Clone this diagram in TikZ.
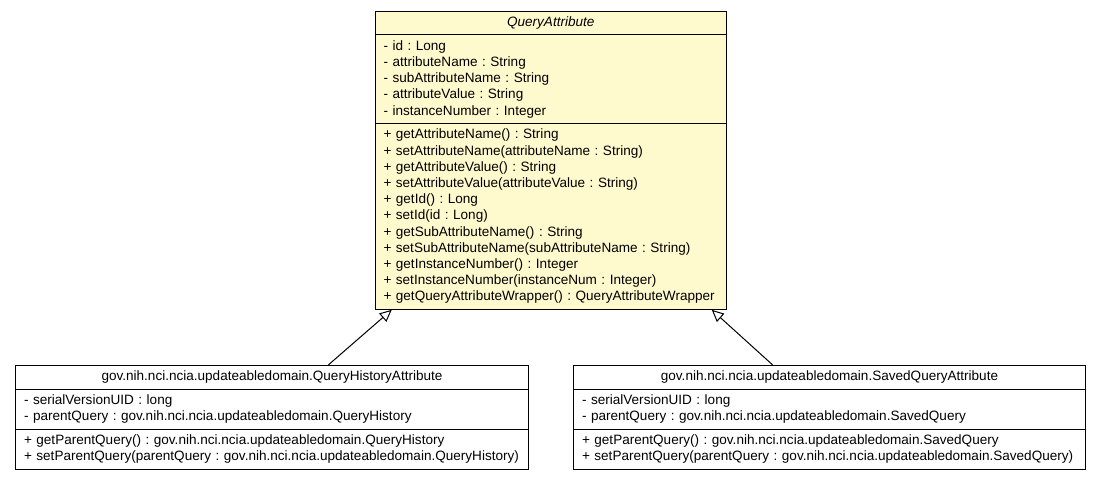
\documentclass[tikz,border=0pt]{standalone}
\usepackage{fontspec}
\setmainfont{Liberation Sans}
\usepackage{tikz}
\usetikzlibrary{shapes.multipart, arrows.meta, positioning}
\frenchspacing
\hyphenpenalty=10000
\definecolor{classfill}{HTML}{FFFACD}
\newcommand{\classtitle}[1]{\makebox[\hsize]{#1}}
\tikzset{
  umlclass/.style={
    rectangle split,
    rectangle split parts=3,
    align=left,
    draw=black,
    line width=1pt,
    inner xsep=8.5pt,
    inner ysep=5.1pt,
    font=\fontsize{13.55}{16.2}\selectfont,
    fill=white
    },
  inherit/.style={
    -{Triangle[open,length=12pt,width=11pt]},
    line width=1pt
    }
}

\begin{document}
\begin{tikzpicture}
\useasboundingbox (0,0) rectangle (1101pt,-480pt);
\node (qa) [umlclass, fill=classfill, text width=334.5pt, anchor=north west] at (374.5pt,-10.5pt) {%
  \classtitle{\textit{QueryAttribute}}
  \nodepart{second}
  - id : Long\\
  - attributeName : String\\
  - subAttributeName : String\\
  - attributeValue : String\\
  - instanceNumber : Integer
  \nodepart{third}
  + getAttributeName() : String\\
  + setAttributeName(attributeName : String)\\
  + getAttributeValue() : String\\
  + setAttributeValue(attributeValue : String)\\
  + getId() : Long\\
  + setId(id : Long)\\
  + getSubAttributeName() : String\\
  + setSubAttributeName(subAttributeName : String)\\
  + getInstanceNumber() : Integer\\
  + setInstanceNumber(instanceNum : Integer)\\
  + getQueryAttributeWrapper() : QueryAttributeWrapper};
\node (hist) [umlclass, text width=496pt, below=55pt of qa.south, xshift=-278.75pt] {%
  \classtitle{gov.nih.nci.ncia.updateabledomain.QueryHistoryAttribute}
  \nodepart{second}
  - serialVersionUID : long\\
  - parentQuery : gov.nih.nci.ncia.updateabledomain.QueryHistory
  \nodepart{third}
  + getParentQuery() : gov.nih.nci.ncia.updateabledomain.QueryHistory\\
  + setParentQuery(parentQuery : gov.nih.nci.ncia.updateabledomain.QueryHistory)};
\node (saved) [umlclass, text width=495pt, below=55pt of qa.south, xshift=278.75pt] {%
  \classtitle{gov.nih.nci.ncia.updateabledomain.SavedQueryAttribute}
  \nodepart{second}
  - serialVersionUID : long\\
  - parentQuery : gov.nih.nci.ncia.updateabledomain.SavedQuery
  \nodepart{third}
  + getParentQuery() : gov.nih.nci.ncia.updateabledomain.SavedQuery\\
  + setParentQuery(parentQuery : gov.nih.nci.ncia.updateabledomain.SavedQuery)};
\draw[inherit] ([xshift=56.5pt]hist.north) -- ([xshift=-159pt]qa.south);
\draw[inherit] ([xshift=-57pt]saved.north) -- ([xshift=161pt]qa.south);
\end{tikzpicture}
\end{document}
